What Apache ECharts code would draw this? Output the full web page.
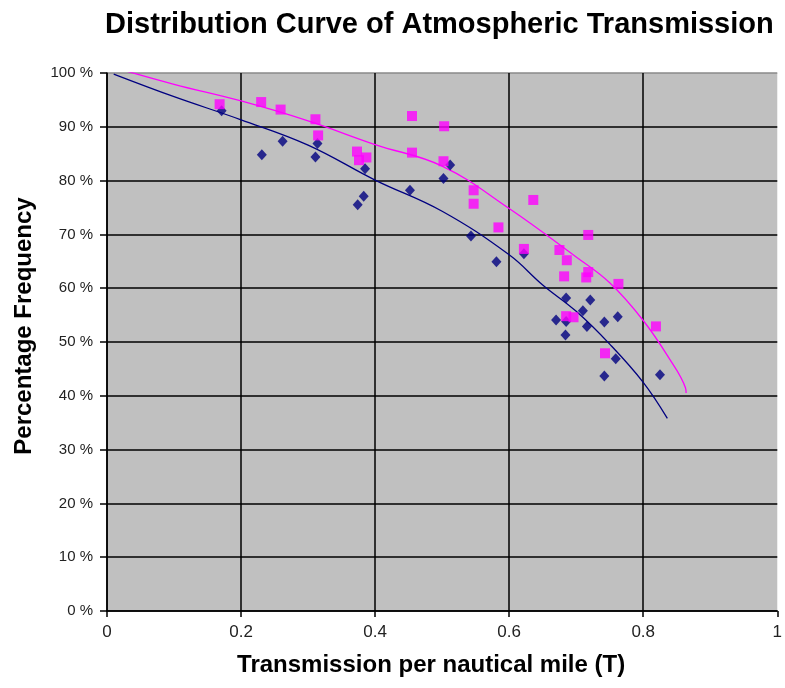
<!DOCTYPE html>
<html><head><meta charset="utf-8">
<script src="https://cdn.jsdelivr.net/npm/echarts@6/dist/echarts.min.js"></script>
<style>html,body{margin:0;padding:0;background:#fff}#c{width:785px;height:688px}</style>
</head><body><div id="c"></div>
<script>
const xTicks = ['0','0.2','0.4','0.6','0.8','1'];
const yTicks = ['0 %','10 %','20 %','30 %','40 %','50 %','60 %','70 %','80 %','90 %','100 %'];
const pinkPoints = [[0.168,94.2],[0.230,94.6],[0.259,93.2],[0.311,91.4],[0.315,88.4],[0.373,85.4],[0.376,83.8],[0.387,84.3],[0.455,92.0],[0.455,85.2],[0.503,90.1],[0.502,83.6],[0.547,78.2],[0.547,75.7],[0.636,76.4],[0.584,71.3],[0.718,69.9],[0.622,67.3],[0.675,67.1],[0.686,65.2],[0.682,62.2],[0.718,63.0],[0.715,62.0],[0.763,60.8],[0.685,54.8],[0.696,54.6],[0.819,52.9],[0.743,47.9]];
const navyPoints = [[0.171,93.0],[0.231,84.8],[0.262,87.3],[0.314,86.9],[0.311,84.4],[0.385,82.2],[0.383,77.1],[0.374,75.5],[0.452,78.2],[0.502,80.4],[0.512,82.9],[0.543,69.7],[0.581,64.9],[0.622,66.4],[0.685,58.2],[0.721,57.8],[0.710,55.8],[0.670,54.1],[0.685,53.8],[0.716,52.9],[0.742,53.7],[0.762,54.7],[0.684,51.3],[0.759,46.9],[0.742,43.7],[0.825,43.9]];
const pinkCurve = [[0,101.4],[0.1,97.9],[0.2,94.8],[0.3,91.1],[0.4,86.7],[0.5,82.7],[0.6,74.8],[0.7,65.8],[0.75,61.0],[0.8,54.0],[0.838,47.1],[0.863,41.5],[0.864,40.5]];
const navyCurve = [[0.01,99.8],[0.1,95.6],[0.2,91.3],[0.3,86.6],[0.4,80.1],[0.5,74.3],[0.6,66.2],[0.65,60.6],[0.7,55.7],[0.75,49.6],[0.8,42.5],[0.836,35.8]];

const chart = echarts.init(document.getElementById('c'));
const ySplitColors = yTicks.map((t,i)=> i===yTicks.length-1 ? '#8a8a8a' : '#000');
const xSplitColors = xTicks.map((t,i)=> i===xTicks.length-1 ? 'rgba(0,0,0,0)' : '#000');
chart.setOption({
  animation:false,
  backgroundColor:'#fff',
  title:{text:'Distribution Curve of Atmospheric Transmission',left:100,top:5,
    textStyle:{fontFamily:'Liberation Sans, Arial',fontSize:29,fontWeight:'bold',color:'#000'}},
  grid:{left:107,top:73,right:3.5,bottom:77,show:true,backgroundColor:'#c0c0c0',borderWidth:0},
  xAxis:{type:'value',min:0,max:1,interval:0.2,
    name:'Transmission per nautical mile (T)',nameLocation:'middle',nameGap:42,
    nameTextStyle:{fontFamily:'Liberation Sans, Arial',fontSize:24,fontWeight:'bold',color:'#000',padding:[0,22,0,0]},
    axisLine:{show:true,lineStyle:{color:'#000',width:1.5}},
    axisTick:{show:true,inside:false,length:6,lineStyle:{color:'#000',width:1.5}},
    axisLabel:{fontFamily:'Liberation Sans, Arial',fontSize:17,color:'#222',margin:13,
      formatter:(v)=>xTicks[Math.round(v/0.2)]},
    splitLine:{show:true,lineStyle:{color:xSplitColors,width:1.5}}},
  yAxis:{type:'value',min:0,max:100,interval:10,
    name:'Percentage Frequency',nameLocation:'middle',nameGap:71,nameRotate:90,
    nameTextStyle:{fontFamily:'Liberation Sans, Arial',fontSize:24,fontWeight:'bold',color:'#000',padding:[0,0,0,32]},
    axisLine:{show:true,lineStyle:{color:'#000',width:1.5}},
    axisTick:{show:true,inside:false,length:7,lineStyle:{color:'#000',width:1.5}},
    axisLabel:{fontFamily:'Liberation Sans, Arial',fontSize:15,color:'#222',margin:14,
      formatter:(v)=>yTicks[Math.round(v/10)]},
    splitLine:{show:true,lineStyle:{color:ySplitColors,width:1.5}}},
  series:[
    {type:'line',data:navyCurve,smooth:0.4,showSymbol:false,clip:true,
     lineStyle:{color:'#000080',width:1.3},z:2},
    {type:'line',data:pinkCurve,smooth:0.4,showSymbol:false,clip:true,
     lineStyle:{color:'#ff00ff',width:1.3},z:2},
    {type:'scatter',data:navyPoints,symbol:'diamond',symbolSize:[10,11],
     itemStyle:{color:'#000080'},z:3},
    {type:'scatter',data:pinkPoints,symbol:'rect',symbolSize:10,
     itemStyle:{color:'#ff00ff'},z:4}
  ]
});
</script></body></html>
